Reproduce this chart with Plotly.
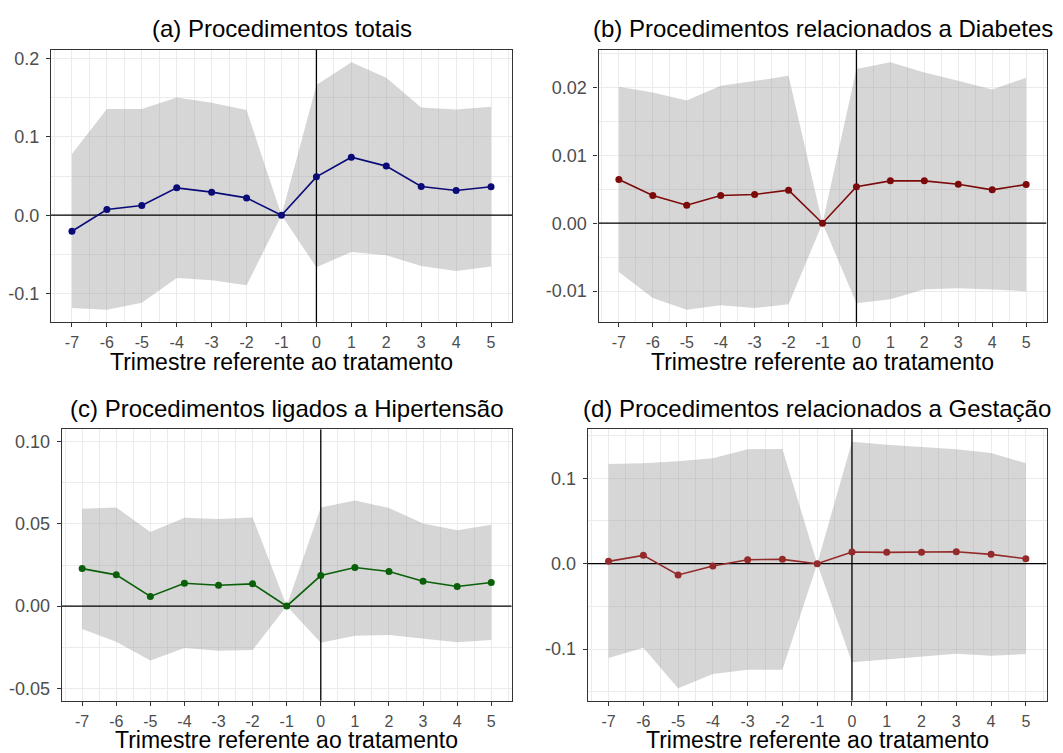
import plotly.graph_objects as go

quarters = [-7, -6, -5, -4, -3, -2, -1, 0, 1, 2, 3, 4, 5]
x_ticklabels = ["-7", "-6", "-5", "-4", "-3", "-2", "-1", "0", "1", "2", "3", "4", "5"]

# (a) Procedimentos totais
a_coef = [-0.0204, 0.0072, 0.0123, 0.0349, 0.0294, 0.0221, 0.0, 0.0489, 0.0740, 0.0626, 0.0366, 0.0315, 0.0362]
a_low = [-0.1183, -0.1204, -0.1115, -0.0800, -0.0830, -0.0894, 0.0, -0.0664, -0.0468, -0.0510, -0.0647, -0.0711, -0.0655]
a_high = [0.0779, 0.1353, 0.1353, 0.1500, 0.1434, 0.1340, 0.0, 0.1660, 0.1949, 0.1753, 0.1374, 0.1349, 0.1383]

# (b) Diabetes
b_coef = [0.00644, 0.00408, 0.00265, 0.00408, 0.00423, 0.00486, 0.0, 0.00536, 0.00624, 0.00624, 0.00575, 0.00491, 0.00570]
b_low = [-0.00717, -0.01100, -0.01273, -0.01209, -0.01248, -0.01194, 0.0, -0.01179, -0.01120, -0.00973, -0.00958, -0.00978, -0.01002]
b_high = [0.02010, 0.01926, 0.01808, 0.02025, 0.02093, 0.02172, 0.0, 0.02270, 0.02369, 0.02221, 0.02098, 0.01970, 0.02143]

# (c) Hipertensao
c_coef = [0.0228, 0.0190, 0.00586, 0.01394, 0.01273, 0.01354, 0.0, 0.01859, 0.02343, 0.0210, 0.01515, 0.01192, 0.01434]
c_low = [-0.01394, -0.02162, -0.03313, -0.02545, -0.02707, -0.02667, 0.0, -0.02222, -0.01798, -0.01758, -0.0200, -0.02202, -0.0206]
c_high = [0.0592, 0.0600, 0.04505, 0.05374, 0.05293, 0.05394, 0.0, 0.0600, 0.06424, 0.0596, 0.0503, 0.04606, 0.0495]
c_ylim = [-0.05, 0.10]

# (d) Gestacao
d_coef = [0.00272, 0.00973, -0.01323, -0.00272, 0.00467, 0.00506, 0.0, 0.01362, 0.01323, 0.01323, 0.0140, 0.0109, 0.00584]
d_low = [-0.1105, -0.0984, -0.1459, -0.1292, -0.1241, -0.1241, 0.0, -0.1152, -0.1121, -0.1089, -0.1054, -0.1078, -0.1058]
d_high = [0.1167, 0.1175, 0.1198, 0.1233, 0.1339, 0.1342, 0.0, 0.1428, 0.1393, 0.1362, 0.1339, 0.1296, 0.1175]

titles = ["(a) Procedimentos totais", "(b) Procedimentos relacionados a Diabetes",
          "(c) Procedimentos ligados a Hipertensão", "(d) Procedimentos relacionados a Gestação"]
x_title = "Trimestre referente ao tratamento"

a_yticks = [-0.1, 0.0, 0.1, 0.2]
a_yticklabels = ["-0.1", "0.0", "0.1", "0.2"]
b_yticks = [-0.01, 0.0, 0.01, 0.02]
b_yticklabels = ["-0.01", "0.00", "0.01", "0.02"]
c_yticks = [-0.05, 0.0, 0.05, 0.10]
c_yticklabels = ["-0.05", "0.00", "0.05", "0.10"]
d_yticks = [-0.1, 0.0, 0.1]
d_yticklabels = ["-0.1", "0.0", "0.1"]

W, H = 1063, 753
FONT = "Liberation Sans, Arial, sans-serif"

panels = [
    dict(coef=a_coef, low=a_low, high=a_high, color="#0B0B78", yt=a_yticks, ytl=a_yticklabels, minor=0.05,
         box=(51, 512, 50, 322), ylim=None),
    dict(coef=b_coef, low=b_low, high=b_high, color="#7D0A0A", yt=b_yticks, ytl=b_yticklabels, minor=0.005,
         box=(598.5, 1046.5, 50, 322), ylim=None),
    dict(coef=c_coef, low=c_low, high=c_high, color="#0A600A", yt=c_yticks, ytl=c_yticklabels, minor=0.025,
         box=(61.7, 511.7, 429.3, 700.7), ylim=c_ylim),
    dict(coef=d_coef, low=d_low, high=d_high, color="#952A2A", yt=d_yticks, ytl=d_yticklabels, minor=0.05,
         box=(587.7, 1046.7, 429.3, 700.7), ylim=None),
]

fig = go.Figure()
layout = {}
annotations = []

xmin, xmax = min(quarters), max(quarters)
xpad = 0.05 * (xmax - xmin)
xrange = [xmin - xpad, xmax + xpad]

for i, p in enumerate(panels):
    n = "" if i == 0 else str(i + 1)
    xa, ya = "x" + n, "y" + n
    if p["ylim"] is None:
        lo, hi = min(p["low"]), max(p["high"])
    else:
        lo, hi = p["ylim"]
    pad = 0.05 * (hi - lo)
    yrange = [lo - pad, hi + pad]

    # ribbon
    fig.add_trace(go.Scatter(x=quarters + quarters[::-1], y=p["high"] + p["low"][::-1],
                             fill="toself", fillcolor="rgba(153,153,153,0.4)",
                             line=dict(width=0), mode="lines", hoverinfo="skip",
                             showlegend=False, xaxis=xa, yaxis=ya))
    # reference lines
    fig.add_trace(go.Scatter(x=xrange, y=[0, 0], mode="lines", line=dict(color="black", width=1.3),
                             showlegend=False, hoverinfo="skip", xaxis=xa, yaxis=ya))
    fig.add_trace(go.Scatter(x=[0, 0], y=yrange, mode="lines", line=dict(color="black", width=1.3),
                             showlegend=False, hoverinfo="skip", xaxis=xa, yaxis=ya))
    # estimates
    fig.add_trace(go.Scatter(x=quarters, y=p["coef"], mode="lines+markers",
                             line=dict(color=p["color"], width=1.6),
                             marker=dict(color=p["color"], size=7),
                             showlegend=False, xaxis=xa, yaxis=ya))

    x0, x1, y0, y1 = p["box"]
    xdom = [x0 / W, x1 / W]
    ydom = [1 - y1 / H, 1 - y0 / H]
    common = dict(showline=True, mirror=True, linecolor="#333333", linewidth=1.3,
                  ticks="outside", ticklen=4, tickcolor="#333333", tickwidth=1.1,
                  showgrid=True, gridcolor="#EBEBEB", gridwidth=1.1, zeroline=False,
                  automargin=False)
    layout["xaxis" + n] = dict(domain=xdom, range=xrange, anchor=ya, tickvals=quarters,
                               ticktext=x_ticklabels, ticklabelstandoff=2,
                               tickfont=dict(family=FONT, size=16, color="#4D4D4D"),
                               minor=dict(dtick=0.5, tick0=0, showgrid=True, gridcolor="#EBEBEB",
                                          gridwidth=0.6, ticks=""),
                               **common)
    layout["yaxis" + n] = dict(domain=ydom, range=yrange, anchor=xa, tickvals=p["yt"],
                               ticktext=p["ytl"], ticklabelstandoff=3,
                               tickfont=dict(family=FONT, size=18, color="#4D4D4D"),
                               minor=dict(dtick=p["minor"], tick0=0, showgrid=True, gridcolor="#EBEBEB",
                                          gridwidth=0.6, ticks=""),
                               **common)
    cx = (x0 + x1) / 2 / W
    annotations.append(dict(text=titles[i], x=cx, y=1 - (y0 - 21) / H, xref="paper", yref="paper",
                            xanchor="center", yanchor="middle", showarrow=False,
                            font=dict(family=FONT, size=24, color="black")))
    annotations.append(dict(text=x_title, x=cx, y=1 - (y1 + 39.5) / H, xref="paper", yref="paper",
                            xanchor="center", yanchor="middle", showarrow=False, borderpad=0,
                            font=dict(family=FONT, size=23, color="black")))

fig.update_layout(width=W, height=H, margin=dict(l=0, r=0, t=0, b=0),
                  paper_bgcolor="white", plot_bgcolor="white",
                  annotations=annotations, **layout)
fig.write_html("out.html", config={"displayModeBar": False},
               post_script="document.body.style.margin='0';document.body.style.overflow='hidden';")
